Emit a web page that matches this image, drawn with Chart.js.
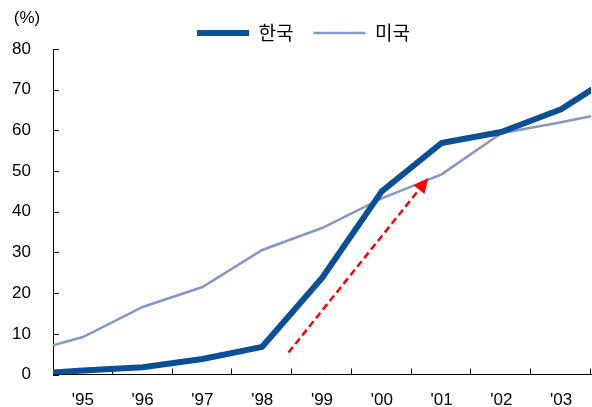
<!DOCTYPE html>
<html>
<head>
<meta charset="utf-8">
<script src="https://cdn.jsdelivr.net/npm/chart.js@4.4.1/dist/chart.umd.min.js"></script>
<style>
    html, body { margin: 0; padding: 0; background: #fff; }
    #wrap { width: 592px; height: 407px; }
</style>
</head>
<body>
<div id="wrap"><canvas id="chart"></canvas></div>
<script>
const yearLabels = ["'95", "'96", "'97", "'98", "'99", "'00", "'01", "'02", "'03"];
// x = years since the start of 1995 (0 = left edge, 9 = right edge of the chart)
const xPoints = [0, 0.5, 1.5, 2.5, 3.5, 4.5, 5.5, 6.5, 7.5, 8.5, 9];
const koreaValues = [0.5, 1.0, 1.8, 3.8, 6.8, 23.7, 45.0, 56.9, 59.6, 65.2, 69.9];
const usValues = [7.2, 9.2, 16.6, 21.5, 30.6, 36.0, 43.3, 49.2, 59.3, 62.0, 63.5];
const yTickValues = [0, 10, 20, 30, 40, 50, 60, 70, 80];
const arrowFrom = { x: 3.94, y: 5.4 };
const arrowTo = { x: 6.28, y: 48.3 };

const FONT = "'Liberation Sans', Arial, 'Noto Sans CJK KR', sans-serif";
const KOREA_COLOR = '#0b4f97';
const US_COLOR = '#8798c6';

const toPoints = (values) => values.map((v, i) => ({ x: xPoints[i], y: v }));

// legend sits a little lower and right of where chart.js centres it
const legendShiftPlugin = {
    id: 'legendShift',
    afterLayout(chart) {
        const lg = chart.legend;
        if (!lg) return;
        lg.left += 8; lg.right += 8;
        lg.top += 3.5; lg.bottom += 3.5;
    }
};

// inward tick marks, the red arrow and the unit label
const decorPlugin = {
    id: 'decor',
    beforeDatasetsDraw(chart) {
        const { ctx, chartArea, scales } = chart;
        ctx.save();
        ctx.strokeStyle = '#000';
        ctx.lineWidth = 1;
        ctx.beginPath();
        yTickValues.forEach(v => {
            const py = Math.round(scales.y.getPixelForValue(v)) + 0.5;
            ctx.moveTo(chartArea.left, py);
            ctx.lineTo(chartArea.left + 6, py);
        });
        for (let i = 1; i <= yearLabels.length; i++) {
            const px = Math.round(scales.x.getPixelForValue(i)) - 0.5;
            ctx.moveTo(px, chartArea.bottom);
            ctx.lineTo(px, chartArea.bottom - 6);
        }
        ctx.stroke();

        ctx.fillStyle = '#000';
        ctx.font = '17px ' + FONT;
        ctx.textAlign = 'center';
        ctx.textBaseline = 'middle';
        ctx.fillText('(%)', 27, scales.y.getPixelForValue(80) - 31);
        ctx.restore();
    },
    afterDatasetsDraw(chart) {
        const { ctx, scales } = chart;
        const x0 = scales.x.getPixelForValue(arrowFrom.x);
        const y0 = scales.y.getPixelForValue(arrowFrom.y);
        const x1 = scales.x.getPixelForValue(arrowTo.x);
        const y1 = scales.y.getPixelForValue(arrowTo.y);
        const ang = Math.atan2(y1 - y0, x1 - x0);
        const headLen = 15, headHalf = 7;
        const bx = x1 - headLen * Math.cos(ang);
        const by = y1 - headLen * Math.sin(ang);

        ctx.save();
        ctx.strokeStyle = '#ff0000';
        ctx.fillStyle = '#ff0000';
        ctx.lineWidth = 2.5;
        ctx.setLineDash([7, 4]);
        ctx.beginPath();
        ctx.moveTo(x0, y0);
        ctx.lineTo(bx, by);
        ctx.stroke();
        ctx.setLineDash([]);
        ctx.beginPath();
        ctx.moveTo(x1, y1);
        ctx.lineTo(bx + headHalf * Math.sin(ang), by - headHalf * Math.cos(ang));
        ctx.lineTo(bx - headHalf * Math.sin(ang), by + headHalf * Math.cos(ang));
        ctx.closePath();
        ctx.fill();
        ctx.restore();
    }
};

new Chart(document.getElementById('chart'), {
    type: 'line',
    data: {
        datasets: [
            {
                label: '한국',
                data: toPoints(koreaValues),
                borderColor: KOREA_COLOR,
                backgroundColor: KOREA_COLOR,
                borderWidth: 6,
                borderCapStyle: 'round',
                borderJoinStyle: 'round',
                pointRadius: 0,
                tension: 0
            },
            {
                label: '미국',
                data: toPoints(usValues),
                borderColor: US_COLOR,
                backgroundColor: US_COLOR,
                borderWidth: 2.5,
                borderCapStyle: 'butt',
                pointRadius: 0,
                tension: 0
            }
        ]
    },
    options: {
        responsive: true,
        maintainAspectRatio: false,
        animation: false,
        layout: { padding: { top: 0, right: 1, bottom: 0, left: 0 } },
        plugins: {
            tooltip: { enabled: false },
            legend: {
                display: true,
                position: 'top',
                labels: {
                    usePointStyle: true,
                    pointStyle: 'line',
                    pointStyleWidth: 52,
                    padding: 20,
                    color: '#000',
                    font: { size: 19, family: "'Noto Sans CJK KR', sans-serif" }
                }
            }
        },
        scales: {
            x: {
                type: 'linear',
                min: 0,
                max: yearLabels.length,
                afterBuildTicks: (scale) => {
                    scale.ticks = yearLabels.map((_, i) => ({ value: i + 0.5 }));
                },
                afterFit: (scale) => { scale.height = 32.5; },
                grid: { display: false, drawTicks: false },
                border: { display: true, color: '#000', width: 1 },
                ticks: {
                    padding: 16,
                    maxRotation: 0,
                    autoSkip: false,
                    color: '#000',
                    font: { size: 17, family: FONT },
                    callback: (value) => yearLabels[Math.floor(value)]
                }
            },
            y: {
                min: 0,
                max: 80,
                afterFit: (scale) => { scale.width = 53; },
                grid: { display: false, drawTicks: false },
                border: { display: true, color: '#000', width: 1 },
                ticks: {
                    stepSize: 10,
                    padding: 22,
                    color: '#000',
                    font: { size: 17, family: FONT }
                }
            }
        }
    },
    plugins: [legendShiftPlugin, decorPlugin]
});
</script>
</body>
</html>
